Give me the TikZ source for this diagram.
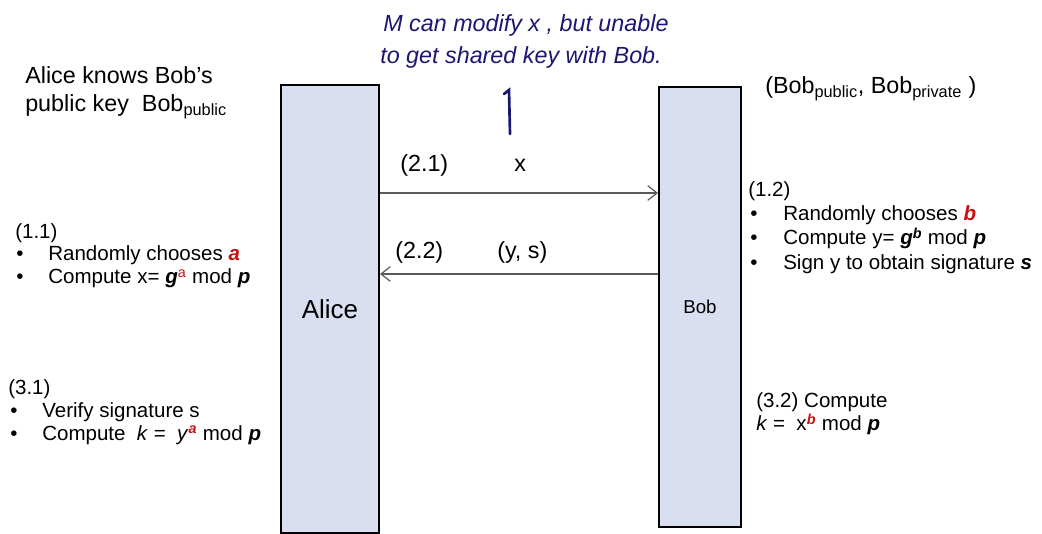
\documentclass[tikz,border=0pt]{standalone}
\usepackage{fontspec}
\setmainfont{Liberation Sans}
\usetikzlibrary{arrows.meta}
\definecolor{boxfill}{RGB}{217,222,240}
\definecolor{keyred}{RGB}{200,16,16}
\definecolor{pen}{RGB}{28,22,115}
\definecolor{msggray}{RGB}{90,90,90}
\newcommand{\rbi}[1]{\textcolor{keyred}{\textbf{\textit{#1}}}}
\newcommand{\bi}[1]{\textbf{\textit{#1}}}
\newcommand{\sps}[1]{\textsuperscript{#1}}
\newcommand{\sbs}[1]{\textsubscript{#1}}
\begin{document}
\begin{tikzpicture}[x=0.75pt,y=-0.75pt,
  party/.style={draw=black,line width=1.5pt,fill=boxfill,inner sep=0pt,anchor=north west},
  txt/.style={anchor=base west,inner sep=0pt,font=\fontsize{15.4pt}{18pt}\selectfont},
  bigtxt/.style={anchor=base west,inner sep=0pt,font=\fontsize{17.5pt}{21pt}\selectfont},
  msg/.style={draw=msggray,line width=0.9pt,-{Straight Barb[length=7pt,width=11pt,line width=0.9pt]}},
  hand/.style={anchor=base west,inner sep=0pt,text=pen,font=\fontsize{17.5pt}{21pt}\selectfont\itshape}
]
\useasboundingbox (0,0) rectangle (1042,534);

% party boxes
\node[party,minimum width=73.5pt,minimum height=336pt,font=\fontsize{19.5pt}{23pt}\selectfont] (alice) at (280,84) {Alice};
\node[party,minimum width=61.5pt,minimum height=330pt,font=\fontsize{14pt}{17pt}\selectfont] (bob) at (658,86) {Bob};

% messages
\coordinate (m1) at (0,193);
\coordinate (m2) at (0,274);
\draw[msg] (alice.east |- m1) -- (bob.west |- m1);
\draw[msg] (bob.west |- m2) -- (alice.east |- m2);
\node[bigtxt] (l21) at (400,172) {(2.1)};
\node[bigtxt] (lx) at (514,172) {x};
\node[bigtxt] (l22) at (395,259) {(2.2)};
\node[bigtxt] (lys) at (497,259) {(y, s)};

% top-left
\node[bigtxt] (kn1) at (25,84) {Alice knows Bob’s};
\node[bigtxt] (kn2) at (25,112) {public key\ \ Bob\sbs{public}};

% top-right
\node[bigtxt] (bk) at (765,94) {(Bob\sbs{public}, Bob\sbs{private} )};

% (1.1)
\node[txt] (a0) at (15,239) {(1.1)};
\node[txt] (a1b) at (16,261) {•};
\node[txt] (a1) at (48,261) {Randomly chooses \rbi{a}};
\node[txt] (a2b) at (16,284) {•};
\node[txt] (a2) at (48,284) {Compute x= \bi{g}\sps{\textcolor{keyred}{a}} mod \bi{p}};

% (3.1)
\node[txt] (c0) at (8,394) {(3.1)};
\node[txt] (c1b) at (10,417) {•};
\node[txt] (c1) at (42,417) {Verify signature s};
\node[txt] (c2b) at (10,440) {•};
\node[txt] (c2) at (42,440) {Compute\ \ \textit{k} =\ \ \textit{y}\sps{\rbi{a}} mod \bi{p}};

% (1.2)
\node[txt] (b0) at (748,197) {(1.2)};
\node[txt] (b1b) at (750,221) {•};
\node[txt] (b1) at (783,221) {Randomly chooses \rbi{b}};
\node[txt] (b2b) at (750,245) {•};
\node[txt] (b2) at (783,245) {Compute y= \bi{g}\sps{\bi{b}} mod \bi{p}};
\node[txt] (b3b) at (750,270) {•};
\node[txt] (b3) at (783,270) {Sign y to obtain signature \bi{s}};

% (3.2)
\node[txt] (d0) at (756,407) {(3.2) Compute};
\node[txt] (d1) at (756,431) {\textit{k} =\ \ x\sps{\rbi{b}} mod \bi{p}};

% handwritten note
\node[hand] (h1) at (383,32) {M can modify x , but unable};
\node[hand] (h2) at (380,64) {to get shared key with Bob.};
\coordinate (ha) at (510,134);
\coordinate (hb) at (509,90);
\draw[pen,line width=2pt,line cap=round] (ha) -- (hb) -- ++(-5,4);
\end{tikzpicture}
\end{document}
